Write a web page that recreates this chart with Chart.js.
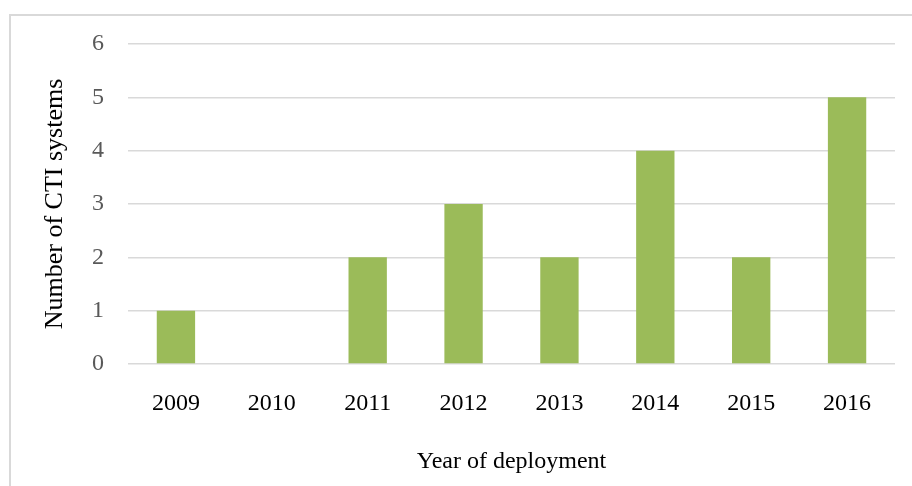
<!DOCTYPE html>
<html>
<head>
<meta charset="utf-8">
<script src="https://cdn.jsdelivr.net/npm/chart.js@4.4.1/dist/chart.umd.min.js"></script>
<style>
  html, body { margin: 0; padding: 0; background: #fff; }
  #wrap { position: relative; width: 912px; height: 486px; overflow: hidden; }
  #frame { position: absolute; left: 9px; top: 14px; width: 960px; height: 520px; border: 2px solid #d9d9d9; box-sizing: border-box; }
  canvas { position: absolute; left: 0; top: 0; }
</style>
</head>
<body>
<div id="wrap">
  <div id="frame"></div>
  <canvas id="c" width="912" height="486"></canvas>
</div>
<script>
const years = ["2009", "2010", "2011", "2012", "2013", "2014", "2015", "2016"];
const ctiSystems = [1, 0, 2, 3, 2, 4, 2, 5];
const yTicks = [0, 1, 2, 3, 4, 5, 6];

const serif = "'Liberation Serif', 'Times New Roman', serif";

new Chart(document.getElementById('c'), {
  type: 'bar',
  data: {
    labels: years,
    datasets: [{
      data: ctiSystems,
      backgroundColor: '#9BBB59',
      borderWidth: 0,
      categoryPercentage: 1.0,
      barPercentage: 0.4
    }]
  },
  options: {
    responsive: false,
    animation: false,
    devicePixelRatio: 1,
    layout: { padding: { left: 36, right: 17, top: 44, bottom: 6 } },
    plugins: { legend: { display: false }, tooltip: { enabled: false } },
    scales: {
      x: {
        grid: { display: false, drawTicks: false },
        border: { display: false },
        ticks: { color: '#000', font: { family: serif, size: 24 }, padding: 25, maxRotation: 0 },
        title: { display: true, text: 'Year of deployment', color: '#000', font: { family: serif, size: 24 }, padding: { top: 4, bottom: 4 } },
        afterFit(scale) { scale.height = 116; }
      },
      y: {
        min: 0, max: 6,
        afterBuildTicks(scale) { scale.ticks = yTicks.map(v => ({ value: v })); },
        grid: { color: '#d9d9d9', lineWidth: 1.5, drawTicks: false },
        border: { display: false },
        ticks: { color: '#595959', font: { family: serif, size: 24 }, padding: 24 },
        title: { display: true, text: 'Number of CTI systems', color: '#000', font: { family: serif, size: 26 }, padding: { top: 4, bottom: 4 } },
        afterFit(scale) { scale.width = 92; }
      }
    }
  }
});
</script>
</body>
</html>
